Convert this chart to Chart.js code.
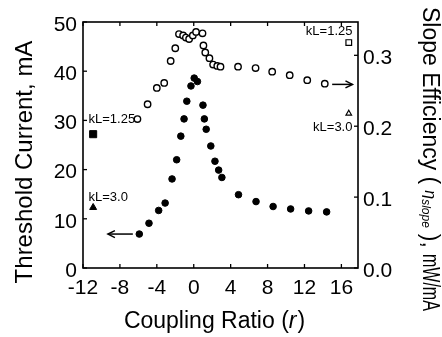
<!DOCTYPE html>
<html>
<head>
<meta charset="utf-8">
<script src="https://cdn.jsdelivr.net/npm/chart.js@4"></script>
<style>
  body { margin: 0; background: #fff; }
  #wrap { width: 442px; height: 337px; }
</style>
</head>
<body>
<div id="wrap"><canvas id="couplingChart" width="442" height="337"></canvas></div>
<script>
// coupling ratio r for the filled (threshold) points
const ratioFilled = [-5.9, -4.85, -3.8, -3.1, -2.35, -1.85, -1.4, -1.05, -0.75, -0.3, 0.05, 0.4, 1.0, 1.15, 1.35, 1.85, 2.3, 2.7, 3.05, 4.85, 6.75, 8.6, 10.5, 12.45, 14.4];
const thresholdCurrent = [6.9, 9.1, 11.7, 13.2, 18.1, 22.0, 26.8, 30.3, 33.9, 37.0, 38.6, 37.9, 33.1, 30.3, 28.2, 24.8, 21.7, 19.9, 18.4, 14.9, 13.5, 12.5, 12.0, 11.6, 11.4];

// coupling ratio r for the open (slope efficiency) points
const ratioOpen = [-6.1, -5.0, -4.0, -3.2, -2.5, -2.0, -1.6, -1.15, -0.85, -0.5, -0.1, 0.25, 0.95, 1.05, 1.25, 1.7, 2.1, 2.55, 2.9, 4.8, 6.7, 8.5, 10.4, 12.3, 14.2];
const slopeEfficiency = [0.210, 0.231, 0.254, 0.261, 0.292, 0.310, 0.330, 0.328, 0.325, 0.323, 0.328, 0.333, 0.331, 0.314, 0.304, 0.296, 0.287, 0.285, 0.284, 0.284, 0.282, 0.277, 0.272, 0.265, 0.260];

// uniform-grating reference devices (kL = 1.25, kL = 3.0)
const refLabels = ["kL=1.25", "kL=3.0"];
const refRatioLeft = [-10.9, -10.9];
const refThreshold = [27.2, 12.3];
const refRatioRight = [16.8, 16.8];
const refSlope = [0.318, 0.218];

const xTicks = [-12, -8, -4, 0, 4, 8, 12, 16];
const yLeftTicks = [0, 10, 20, 30, 40, 50];
const yRightTicks = [0, 0.1, 0.2, 0.3];

const FONT = '"Liberation Sans", Arial, Helvetica, sans-serif';

function pts(xs, ys) {
  return xs.map((x, i) => ({ x, y: ys[i] }));
}

function line(ctx, x1, y1, x2, y2) {
  ctx.beginPath();
  ctx.moveTo(x1, y1);
  ctx.lineTo(x2, y2);
  ctx.stroke();
}

function arrow(ctx, x1, x2, y) {
  // shaft from x1 to x2, head at x2
  const dir = x2 > x1 ? 1 : -1;
  line(ctx, x1, y, x2, y);
  ctx.beginPath();
  ctx.moveTo(x2 - dir * 7, y - 3.5);
  ctx.lineTo(x2, y);
  ctx.lineTo(x2 - dir * 7, y + 3.5);
  ctx.stroke();
}

const decorPlugin = {
  id: "decor",
  afterDraw(chart) {
    const { ctx, chartArea: a, scales } = chart;
    const x = scales.x, yl = scales.y, yr = scales.y1;
    ctx.save();
    ctx.strokeStyle = "#000";
    ctx.fillStyle = "#000";

    // frame + inward ticks
    ctx.lineWidth = 1.6;
    ctx.strokeRect(a.left, a.top, a.right - a.left, a.bottom - a.top);
    ctx.lineWidth = 1.3;
    xTicks.forEach(v => {
      const p = x.getPixelForValue(v);
      line(ctx, p, a.bottom, p, a.bottom - 4);
      line(ctx, p, a.top, p, a.top + 4);
    });
    yLeftTicks.forEach(v => {
      const p = yl.getPixelForValue(v);
      line(ctx, a.left, p, a.left + 4, p);
    });
    yRightTicks.forEach(v => {
      const p = yr.getPixelForValue(v);
      line(ctx, a.right, p, a.right - 4, p);
    });

    // kL labels
    ctx.font = "13px " + FONT;
    ctx.textBaseline = "middle";
    ctx.textAlign = "left";
    ctx.fillText(refLabels[0], x.getPixelForValue(-11.4), yl.getPixelForValue(30.3));
    ctx.fillText(refLabels[1], x.getPixelForValue(-11.4), yl.getPixelForValue(14.4));
    ctx.textAlign = "right";
    ctx.fillText(refLabels[0], x.getPixelForValue(17.2), yr.getPixelForValue(0.334));
    ctx.fillText(refLabels[1], x.getPixelForValue(17.2), yr.getPixelForValue(0.199));

    // arrows pointing to each curve's axis
    ctx.lineWidth = 1.5;
    arrow(ctx, x.getPixelForValue(-6.6), x.getPixelForValue(-9.3), yl.getPixelForValue(6.9));
    arrow(ctx, x.getPixelForValue(15.0), x.getPixelForValue(17.2), yr.getPixelForValue(0.259));

    // axis titles
    ctx.textBaseline = "alphabetic";

    ctx.save();
    ctx.font = "24px " + FONT;
    ctx.translate(32, 162);
    ctx.rotate(-Math.PI / 2);
    ctx.textAlign = "center";
    ctx.fillText("Threshold Current, mA", 0, 0);
    ctx.restore();

    // bottom: Coupling Ratio (r)
    const part1 = "Coupling Ratio (";
    ctx.font = "23px " + FONT;
    const w1 = ctx.measureText(part1).width;
    ctx.font = "italic 23px " + FONT;
    const w2 = ctx.measureText("r").width;
    ctx.font = "23px " + FONT;
    const w3 = ctx.measureText(")").width;
    let bx = 214 - (w1 + w2 + w3) / 2;
    const by = 328;
    ctx.textAlign = "left";
    ctx.fillText(part1, bx, by);
    bx += w1;
    ctx.font = "italic 23px " + FONT;
    ctx.fillText("r", bx, by);
    bx += w2 + 1;
    ctx.font = "23px " + FONT;
    ctx.fillText(")", bx, by);

    // right: Slope Efficiency (eta_slope), mW/mA  (reads top to bottom)
    ctx.save();
    ctx.translate(423, 7);
    ctx.rotate(Math.PI / 2);
    ctx.textAlign = "left";
    let rx = 0;
    const seg = (txt, font, dy, maxW) => {
      ctx.font = font;
      const w = maxW ? Math.min(maxW, ctx.measureText(txt).width) : ctx.measureText(txt).width;
      if (maxW) ctx.fillText(txt, rx, dy, maxW);
      else ctx.fillText(txt, rx, dy);
      rx += w;
    };
    seg("Slope Efficiency (", "23px " + FONT, 0);
    rx += 6;
    seg("\u03b7", "italic 16px " + FONT, -2);
    seg("slope", "italic 12px " + FONT, 1);
    rx += 6;
    seg("),", "23px " + FONT, 0);
    rx += 6;
    seg("mW/mA", "23px " + FONT, 0, 57);
    ctx.restore();

    ctx.restore();
  }
};

const ctx = document.getElementById("couplingChart").getContext("2d");

new Chart(ctx, {
  type: "scatter",
  data: {
    datasets: [
      {
        label: "Threshold Current",
        data: pts(ratioFilled, thresholdCurrent),
        yAxisID: "y",
        pointStyle: "circle",
        pointRadius: 3.3,
        borderWidth: 1,
        backgroundColor: "#000",
        borderColor: "#000"
      },
      {
        label: "Slope Efficiency",
        data: pts(ratioOpen, slopeEfficiency),
        yAxisID: "y1",
        pointStyle: "circle",
        pointRadius: 3.2,
        borderWidth: 1.4,
        backgroundColor: "#fff",
        borderColor: "#000"
      },
      {
        label: "kL threshold",
        data: pts(refRatioLeft, refThreshold),
        yAxisID: "y",
        pointStyle: ["rect", "triangle"],
        pointRadius: [5, 4],
        borderWidth: 1,
        backgroundColor: "#000",
        borderColor: "#000"
      },
      {
        label: "kL slope",
        data: pts(refRatioRight, refSlope),
        yAxisID: "y1",
        pointStyle: ["rect", "triangle"],
        pointRadius: [4, 3.2],
        borderWidth: 1.2,
        backgroundColor: "#fff",
        borderColor: "#000"
      }
    ]
  },
  options: {
    responsive: false,
    animation: false,
    layout: { padding: { top: 22, left: 0, right: 0, bottom: 0 } },
    plugins: {
      legend: { display: false },
      tooltip: { enabled: false }
    },
    scales: {
      x: {
        type: "linear",
        min: -12,
        max: 17.8,
        grid: { display: false, drawTicks: false },
        border: { display: false },
        afterBuildTicks: s => { s.ticks = xTicks.map(v => ({ value: v })); },
        afterFit: s => { s.height = 69; },
        ticks: {
          padding: 8,
          color: "#000",
          font: { family: FONT, size: 21 }
        }
      },
      y: {
        position: "left",
        min: 0,
        max: 50,
        grid: { display: false, drawTicks: false },
        border: { display: false },
        afterBuildTicks: s => { s.ticks = yLeftTicks.map(v => ({ value: v })); },
        afterFit: s => { s.width = 83; },
        ticks: {
          padding: 6,
          labelOffset: 3,
          color: "#000",
          font: { family: FONT, size: 21 }
        }
      },
      y1: {
        position: "right",
        min: 0,
        max: 0.347,
        grid: { display: false, drawTicks: false },
        border: { display: false },
        afterBuildTicks: s => { s.ticks = yRightTicks.map(v => ({ value: v })); },
        afterFit: s => { s.width = 84; },
        ticks: {
          padding: 5,
          labelOffset: 3,
          color: "#000",
          font: { family: FONT, size: 21 },
          callback: v => v.toFixed(1)
        }
      }
    }
  },
  plugins: [decorPlugin]
});
</script>
</body>
</html>
